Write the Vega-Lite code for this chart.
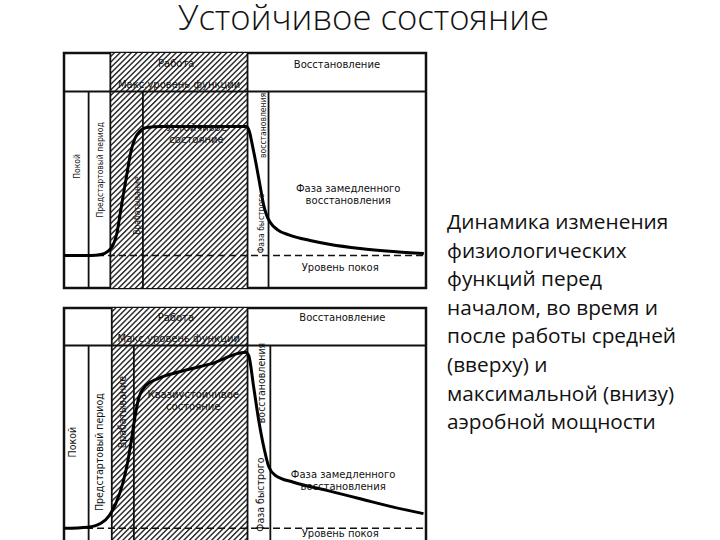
{
  "$schema": "https://vega.github.io/schema/vega-lite/v6.json",
  "background": "white",
  "autosize": {"type": "pad"},
  "padding": {"left": 56, "top": 2, "right": 0, "bottom": 0},
  "title": {"text": "Устойчивое состояние", "fontSize": 34.7, "font": "Open Sans", "fontWeight": 300, "color": "#111", "anchor": "start", "dx": 114, "offset": 13, "frame": "group"},
  "spacing": 15,
  "config": {"view": {"stroke": "#111", "strokeWidth": 2.5}},
  "hconcat": [
    {
      "data": {"values": [
        {"kind":"curve","panel":1,"t":0,"level":12.9},{"kind":"curve","panel":1,"t":7.4,"level":12.9},{"kind":"curve","panel":1,"t":10.2,"level":13.3},{"kind":"curve","panel":1,"t":12.1,"level":14.6},{"kind":"curve","panel":1,"t":13.5,"level":17.2},{"kind":"curve","panel":1,"t":14.6,"level":22.3},{"kind":"curve","panel":1,"t":15.4,"level":29.6},{"kind":"curve","panel":1,"t":16.3,"level":38.2},{"kind":"curve","panel":1,"t":17.4,"level":48.1},{"kind":"curve","panel":1,"t":18.5,"level":57.5},{"kind":"curve","panel":1,"t":19.6,"level":63.1},{"kind":"curve","panel":1,"t":20.9,"level":66.1},{"kind":"curve","panel":1,"t":22.9,"level":67.8},{"kind":"curve","panel":1,"t":26.7,"level":68.2},{"kind":"curve","panel":1,"t":50.4,"level":68.2},{"kind":"curve","panel":1,"t":51.2,"level":66.1},{"kind":"curve","panel":1,"t":52.1,"level":59.7},{"kind":"curve","panel":1,"t":53.2,"level":51.1},{"kind":"curve","panel":1,"t":54.3,"level":41.6},{"kind":"curve","panel":1,"t":55.1,"level":34.8},{"kind":"curve","panel":1,"t":55.9,"level":30.5},{"kind":"curve","panel":1,"t":57.0,"level":27.0},{"kind":"curve","panel":1,"t":58.9,"level":24.0},{"kind":"curve","panel":1,"t":62.5,"level":21.5},{"kind":"curve","panel":1,"t":68.0,"level":19.3},{"kind":"curve","panel":1,"t":73.6,"level":17.6},{"kind":"curve","panel":1,"t":81.8,"level":15.9},{"kind":"curve","panel":1,"t":90.9,"level":14.6},{"kind":"curve","panel":1,"t":99.4,"level":13.7},
        {"kind":"curve","panel":2,"t":0,"level":5.2},{"kind":"curve","panel":2,"t":6.5,"level":5.7},{"kind":"curve","panel":2,"t":10.2,"level":7.4},{"kind":"curve","panel":2,"t":12.5,"level":10.7},{"kind":"curve","panel":2,"t":14.3,"level":15.8},{"kind":"curve","panel":2,"t":16.2,"level":24.3},{"kind":"curve","panel":2,"t":17.5,"level":32.9},{"kind":"curve","panel":2,"t":18.6,"level":42.9},{"kind":"curve","panel":2,"t":19.6,"level":52.9},{"kind":"curve","panel":2,"t":20.7,"level":61.5},{"kind":"curve","panel":2,"t":22.6,"level":66.5},{"kind":"curve","panel":2,"t":25.8,"level":69.4},{"kind":"curve","panel":2,"t":31.3,"level":72.2},{"kind":"curve","panel":2,"t":40.5,"level":75.8},{"kind":"curve","panel":2,"t":50.1,"level":80.8},{"kind":"curve","panel":2,"t":51.0,"level":79.4},{"kind":"curve","panel":2,"t":52.4,"level":65.8},{"kind":"curve","panel":2,"t":53.8,"level":51.5},{"kind":"curve","panel":2,"t":55.2,"level":40.0},{"kind":"curve","panel":2,"t":56.6,"level":31.5},{"kind":"curve","panel":2,"t":58.4,"level":27.9},{"kind":"curve","panel":2,"t":63.4,"level":25.0},{"kind":"curve","panel":2,"t":72.6,"level":21.5},{"kind":"curve","panel":2,"t":81.8,"level":17.9},{"kind":"curve","panel":2,"t":91.0,"level":14.3},{"kind":"curve","panel":2,"t":99.3,"level":11.5},
        {"kind":"hatch","panel":1,"t":12.8,"t2":50.7,"level":-1.1,"level2":99.8},
        {"kind":"hatch","panel":2,"t":13.2,"t2":50.7,"level":-1.1,"level2":99.8},
        {"kind":"vline","panel":1,"t":6.8,"level":-1.1,"level2":83.3},{"kind":"vline","panel":1,"t":12.8,"level":-1.1,"level2":99.8},{"kind":"vline","panel":1,"t":21.8,"level":-1.1,"level2":83.3},{"kind":"vline","panel":1,"t":50.7,"level":-1.1,"level2":99.8},{"kind":"vline","panel":1,"t":56.5,"level":-1.1,"level2":83.3},
        {"kind":"vline","panel":2,"t":6.8,"level":-1.1,"level2":83.7},{"kind":"vline","panel":2,"t":13.2,"level":-1.1,"level2":99.8},{"kind":"vline","panel":2,"t":19.3,"level":-1.1,"level2":83.7},{"kind":"vline","panel":2,"t":50.7,"level":-1.1,"level2":99.8},{"kind":"vline","panel":2,"t":57.0,"level":-1.1,"level2":83.7},
        {"kind":"hline","panel":1,"t":0,"t2":100,"level":83.3},{"kind":"hline","panel":2,"t":0,"t2":100,"level":83.7},
        {"kind":"rest","panel":1,"t":0,"t2":100,"level":12.9},{"kind":"rest","panel":2,"t":0,"t2":100,"level":5.2},
        {"kind":"label","panel":1,"t":31,"level":95.2,"label":"Работа"},
        {"kind":"label","panel":1,"t":75.4,"level":94.7,"label":"Восстановление"},
        {"kind":"label","panel":1,"t":31.8,"level":85.9,"label":"Макс.уровень функции"},
        {"kind":"label","panel":1,"t":36.6,"level":67.8,"label":"Устойчивое\nсостояние"},
        {"kind":"label","panel":1,"t":78.5,"level":41.4,"label":"Фаза замедленного\nвосстановления"},
        {"kind":"label","panel":1,"t":76.3,"level":7.4,"label":"Уровень покоя"},
        {"kind":"label","panel":2,"t":30.9,"level":95.3,"label":"Работа"},
        {"kind":"label","panel":2,"t":76.9,"level":95.3,"label":"Восстановление"},
        {"kind":"label","panel":2,"t":31.7,"level":86.5,"label":"Макс.уровень функции"},
        {"kind":"label","panel":2,"t":35.7,"level":62.5,"label":"Квазиустойчивое\nсостояние"},
        {"kind":"label","panel":2,"t":77.1,"level":28.3,"label":"Фаза замедленного\nвосстановления"},
        {"kind":"label","panel":2,"t":76.3,"level":2.9,"label":"Уровень покоя"},
        {"kind":"vlabel","panel":1,"t":3.6,"level":51.1,"label":"Покой"},
        {"kind":"vlabel","panel":1,"t":10.0,"level":49.6,"label":"Предстартовый период"},
        {"kind":"vlabel","panel":1,"t":20.1,"level":34.3,"label":"Врабатывание"},
        {"kind":"vlabel","panel":1,"t":55.0,"level":68.7,"label":"восстановления"},
        {"kind":"vlabel","panel":1,"t":54.3,"level":26.7,"label":"Фаза быстрого"},
        {"kind":"vlabel","panel":2,"t":2.4,"level":42.2,"label":"Покой"},
        {"kind":"vlabel","panel":2,"t":10.0,"level":37.9,"label":"Предстартовый период"},
        {"kind":"vlabel","panel":2,"t":16.2,"level":55.1,"label":"Врабатывание"},
        {"kind":"vlabel","panel":2,"t":54.7,"level":67.6,"label":"восстановления"},
        {"kind":"vlabel","panel":2,"t":54.3,"level":19.7,"label":"Фаза быстрого"}
      ]},
      "facet": {"row": {"field": "panel", "type": "ordinal", "header": null}},
      "spacing": 20,
      "bounds": "flush",
      "spec": {
        "width": 362,
        "height": 235,
        "encoding": {
          "x": {"field": "t", "type": "quantitative", "scale": {"domain": [0, 100], "nice": false}, "axis": null},
          "y": {"field": "level", "type": "quantitative", "scale": {"domain": [-1.1, 99.8], "nice": false, "zero": false}, "axis": null}
        },
        "layer": [
          {
            "transform": [{"filter": "datum.kind === 'hatch'"}],
            "mark": {"type": "rect", "fill": {"gradient": "linear", "x1": 0, "y1": 0, "x2": 0.685, "y2": 1.1825, "stops": [
              {"offset":0,"color":"#fff"},{"offset":0.006,"color":"#fff"},{"offset":0.009,"color":"#333"},{"offset":0.0115,"color":"#333"},
              {"offset":0.015,"color":"#fff"},{"offset":0.021,"color":"#fff"},{"offset":0.024,"color":"#333"},{"offset":0.0265,"color":"#333"},
              {"offset":0.03,"color":"#fff"},{"offset":0.036,"color":"#fff"},{"offset":0.039,"color":"#333"},{"offset":0.0415,"color":"#333"},
              {"offset":0.045,"color":"#fff"},{"offset":0.051,"color":"#fff"},{"offset":0.054,"color":"#333"},{"offset":0.0565,"color":"#333"},
              {"offset":0.06,"color":"#fff"},{"offset":0.066,"color":"#fff"},{"offset":0.069,"color":"#333"},{"offset":0.0715,"color":"#333"},
              {"offset":0.075,"color":"#fff"},{"offset":0.081,"color":"#fff"},{"offset":0.084,"color":"#333"},{"offset":0.0865,"color":"#333"},
              {"offset":0.09,"color":"#fff"},{"offset":0.096,"color":"#fff"},{"offset":0.099,"color":"#333"},{"offset":0.1015,"color":"#333"},
              {"offset":0.105,"color":"#fff"},{"offset":0.111,"color":"#fff"},{"offset":0.114,"color":"#333"},{"offset":0.1165,"color":"#333"},
              {"offset":0.12,"color":"#fff"},{"offset":0.126,"color":"#fff"},{"offset":0.129,"color":"#333"},{"offset":0.1315,"color":"#333"},
              {"offset":0.135,"color":"#fff"},{"offset":0.141,"color":"#fff"},{"offset":0.144,"color":"#333"},{"offset":0.1465,"color":"#333"},
              {"offset":0.15,"color":"#fff"},{"offset":0.156,"color":"#fff"},{"offset":0.159,"color":"#333"},{"offset":0.1615,"color":"#333"},
              {"offset":0.165,"color":"#fff"},{"offset":0.171,"color":"#fff"},{"offset":0.174,"color":"#333"},{"offset":0.1765,"color":"#333"},
              {"offset":0.18,"color":"#fff"},{"offset":0.186,"color":"#fff"},{"offset":0.189,"color":"#333"},{"offset":0.1915,"color":"#333"},
              {"offset":0.195,"color":"#fff"},{"offset":0.201,"color":"#fff"},{"offset":0.204,"color":"#333"},{"offset":0.2065,"color":"#333"},
              {"offset":0.21,"color":"#fff"},{"offset":0.216,"color":"#fff"},{"offset":0.219,"color":"#333"},{"offset":0.2215,"color":"#333"},
              {"offset":0.225,"color":"#fff"},{"offset":0.231,"color":"#fff"},{"offset":0.234,"color":"#333"},{"offset":0.2365,"color":"#333"},
              {"offset":0.24,"color":"#fff"},{"offset":0.246,"color":"#fff"},{"offset":0.249,"color":"#333"},{"offset":0.2515,"color":"#333"},
              {"offset":0.255,"color":"#fff"},{"offset":0.261,"color":"#fff"},{"offset":0.264,"color":"#333"},{"offset":0.2665,"color":"#333"},
              {"offset":0.27,"color":"#fff"},{"offset":0.276,"color":"#fff"},{"offset":0.279,"color":"#333"},{"offset":0.2815,"color":"#333"},
              {"offset":0.285,"color":"#fff"},{"offset":0.291,"color":"#fff"},{"offset":0.294,"color":"#333"},{"offset":0.2965,"color":"#333"},
              {"offset":0.3,"color":"#fff"},{"offset":0.306,"color":"#fff"},{"offset":0.309,"color":"#333"},{"offset":0.3115,"color":"#333"},
              {"offset":0.315,"color":"#fff"},{"offset":0.321,"color":"#fff"},{"offset":0.324,"color":"#333"},{"offset":0.3265,"color":"#333"},
              {"offset":0.33,"color":"#fff"},{"offset":0.336,"color":"#fff"},{"offset":0.339,"color":"#333"},{"offset":0.3415,"color":"#333"},
              {"offset":0.345,"color":"#fff"},{"offset":0.351,"color":"#fff"},{"offset":0.354,"color":"#333"},{"offset":0.3565,"color":"#333"},
              {"offset":0.36,"color":"#fff"},{"offset":0.366,"color":"#fff"},{"offset":0.369,"color":"#333"},{"offset":0.3715,"color":"#333"},
              {"offset":0.375,"color":"#fff"},{"offset":0.381,"color":"#fff"},{"offset":0.384,"color":"#333"},{"offset":0.3865,"color":"#333"},
              {"offset":0.39,"color":"#fff"},{"offset":0.396,"color":"#fff"},{"offset":0.399,"color":"#333"},{"offset":0.4015,"color":"#333"},
              {"offset":0.405,"color":"#fff"},{"offset":0.411,"color":"#fff"},{"offset":0.414,"color":"#333"},{"offset":0.4165,"color":"#333"},
              {"offset":0.42,"color":"#fff"},{"offset":0.426,"color":"#fff"},{"offset":0.429,"color":"#333"},{"offset":0.4315,"color":"#333"},
              {"offset":0.435,"color":"#fff"},{"offset":0.441,"color":"#fff"},{"offset":0.444,"color":"#333"},{"offset":0.4465,"color":"#333"},
              {"offset":0.45,"color":"#fff"},{"offset":0.456,"color":"#fff"},{"offset":0.459,"color":"#333"},{"offset":0.4615,"color":"#333"},
              {"offset":0.465,"color":"#fff"},{"offset":0.471,"color":"#fff"},{"offset":0.474,"color":"#333"},{"offset":0.4765,"color":"#333"},
              {"offset":0.48,"color":"#fff"},{"offset":0.486,"color":"#fff"},{"offset":0.489,"color":"#333"},{"offset":0.4915,"color":"#333"},
              {"offset":0.495,"color":"#fff"},{"offset":0.501,"color":"#fff"},{"offset":0.504,"color":"#333"},{"offset":0.5065,"color":"#333"},
              {"offset":0.51,"color":"#fff"},{"offset":0.516,"color":"#fff"},{"offset":0.519,"color":"#333"},{"offset":0.5215,"color":"#333"},
              {"offset":0.525,"color":"#fff"},{"offset":0.531,"color":"#fff"},{"offset":0.534,"color":"#333"},{"offset":0.5365,"color":"#333"},
              {"offset":0.54,"color":"#fff"},{"offset":0.546,"color":"#fff"},{"offset":0.549,"color":"#333"},{"offset":0.5515,"color":"#333"},
              {"offset":0.555,"color":"#fff"},{"offset":0.561,"color":"#fff"},{"offset":0.564,"color":"#333"},{"offset":0.5665,"color":"#333"},
              {"offset":0.57,"color":"#fff"},{"offset":0.576,"color":"#fff"},{"offset":0.579,"color":"#333"},{"offset":0.5815,"color":"#333"},
              {"offset":0.585,"color":"#fff"},{"offset":0.591,"color":"#fff"},{"offset":0.594,"color":"#333"},{"offset":0.5965,"color":"#333"},
              {"offset":0.6,"color":"#fff"},{"offset":0.606,"color":"#fff"},{"offset":0.609,"color":"#333"},{"offset":0.6115,"color":"#333"},
              {"offset":0.615,"color":"#fff"},{"offset":0.621,"color":"#fff"},{"offset":0.624,"color":"#333"},{"offset":0.6265,"color":"#333"},
              {"offset":0.63,"color":"#fff"},{"offset":0.636,"color":"#fff"},{"offset":0.639,"color":"#333"},{"offset":0.6415,"color":"#333"},
              {"offset":0.645,"color":"#fff"},{"offset":0.651,"color":"#fff"},{"offset":0.654,"color":"#333"},{"offset":0.6565,"color":"#333"},
              {"offset":0.66,"color":"#fff"},{"offset":0.666,"color":"#fff"},{"offset":0.669,"color":"#333"},{"offset":0.6715,"color":"#333"},
              {"offset":0.675,"color":"#fff"},{"offset":0.681,"color":"#fff"},{"offset":0.684,"color":"#333"},{"offset":0.6865,"color":"#333"},
              {"offset":0.69,"color":"#fff"},{"offset":0.696,"color":"#fff"},{"offset":0.699,"color":"#333"},{"offset":0.7015,"color":"#333"},
              {"offset":0.705,"color":"#fff"},{"offset":0.711,"color":"#fff"},{"offset":0.714,"color":"#333"},{"offset":0.7165,"color":"#333"},
              {"offset":0.72,"color":"#fff"},{"offset":0.726,"color":"#fff"},{"offset":0.729,"color":"#333"},{"offset":0.7315,"color":"#333"},
              {"offset":0.735,"color":"#fff"},{"offset":0.741,"color":"#fff"},{"offset":0.744,"color":"#333"},{"offset":0.7465,"color":"#333"},
              {"offset":0.75,"color":"#fff"},{"offset":0.756,"color":"#fff"},{"offset":0.759,"color":"#333"},{"offset":0.7615,"color":"#333"},
              {"offset":0.765,"color":"#fff"},{"offset":0.771,"color":"#fff"},{"offset":0.774,"color":"#333"},{"offset":0.7765,"color":"#333"},
              {"offset":0.78,"color":"#fff"},{"offset":0.786,"color":"#fff"},{"offset":0.789,"color":"#333"},{"offset":0.7915,"color":"#333"},
              {"offset":0.795,"color":"#fff"},{"offset":0.801,"color":"#fff"},{"offset":0.804,"color":"#333"},{"offset":0.8065,"color":"#333"},
              {"offset":0.81,"color":"#fff"},{"offset":0.816,"color":"#fff"},{"offset":0.819,"color":"#333"},{"offset":0.8215,"color":"#333"},
              {"offset":0.825,"color":"#fff"},{"offset":0.831,"color":"#fff"},{"offset":0.834,"color":"#333"},{"offset":0.8365,"color":"#333"},
              {"offset":0.84,"color":"#fff"},{"offset":0.846,"color":"#fff"},{"offset":0.849,"color":"#333"},{"offset":0.8515,"color":"#333"},
              {"offset":0.855,"color":"#fff"},{"offset":0.861,"color":"#fff"},{"offset":0.864,"color":"#333"},{"offset":0.8665,"color":"#333"},
              {"offset":0.87,"color":"#fff"},{"offset":0.876,"color":"#fff"},{"offset":0.879,"color":"#333"},{"offset":0.8815,"color":"#333"},
              {"offset":0.885,"color":"#fff"},{"offset":0.891,"color":"#fff"},{"offset":0.894,"color":"#333"},{"offset":0.8965,"color":"#333"},
              {"offset":0.9,"color":"#fff"},{"offset":0.906,"color":"#fff"},{"offset":0.909,"color":"#333"},{"offset":0.9115,"color":"#333"},
              {"offset":0.915,"color":"#fff"},{"offset":0.921,"color":"#fff"},{"offset":0.924,"color":"#333"},{"offset":0.9265,"color":"#333"},
              {"offset":0.93,"color":"#fff"},{"offset":0.936,"color":"#fff"},{"offset":0.939,"color":"#333"},{"offset":0.9415,"color":"#333"},
              {"offset":0.945,"color":"#fff"},{"offset":0.951,"color":"#fff"},{"offset":0.954,"color":"#333"},{"offset":0.9565,"color":"#333"},
              {"offset":0.96,"color":"#fff"},{"offset":0.966,"color":"#fff"},{"offset":0.969,"color":"#333"},{"offset":0.9715,"color":"#333"},
              {"offset":0.975,"color":"#fff"},{"offset":0.981,"color":"#fff"},{"offset":0.984,"color":"#333"},{"offset":0.9865,"color":"#333"},
              {"offset":0.99,"color":"#fff"},{"offset":1,"color":"#fff"}
            ]}},
            "encoding": {"x2": {"field": "t2"}, "y2": {"field": "level2"}}
          },
          {
            "transform": [{"filter": "datum.kind === 'rest'"}],
            "mark": {"type": "rule", "color": "#111", "strokeWidth": 1.5, "strokeDash": [7, 4]},
            "encoding": {"x2": {"field": "t2"}}
          },
          {
            "transform": [{"filter": "datum.kind === 'hline'"}],
            "mark": {"type": "rule", "color": "#111", "strokeWidth": 2},
            "encoding": {"x2": {"field": "t2"}}
          },
          {
            "transform": [{"filter": "datum.kind === 'vline'"}],
            "mark": {"type": "rule", "color": "#111", "strokeWidth": 1.8},
            "encoding": {"y2": {"field": "level2"}}
          },
          {
            "transform": [{"filter": "datum.kind === 'curve'"}],
            "mark": {"type": "line", "color": "#000", "strokeWidth": 3, "interpolate": "monotone"},
            "encoding": {}
          },
          {
            "transform": [{"filter": "datum.kind === 'label'"}],
            "mark": {"type": "text", "font": "DejaVu Sans", "fontSize": 10, "color": "#111", "align": "center", "baseline": "middle", "lineBreak": "\n", "lineHeight": 12},
            "encoding": {"text": {"field": "label"}}
          },
          {
            "transform": [{"filter": "datum.kind === 'vlabel' && datum.panel === 1"}],
            "mark": {"type": "text", "font": "DejaVu Sans Condensed", "fontSize": 8.5, "color": "#111", "align": "center", "baseline": "middle", "angle": 270},
            "encoding": {"text": {"field": "label"}}
          },
          {
            "transform": [{"filter": "datum.kind === 'vlabel' && datum.panel === 2"}],
            "mark": {"type": "text", "font": "DejaVu Sans Condensed", "fontSize": 10.5, "color": "#111", "align": "center", "baseline": "middle", "angle": 270},
            "encoding": {"text": {"field": "label"}}
          }
        ]
      }
    },
    {
      "width": 272,
      "height": 490,
      "view": {"stroke": null},
      "data": {"values": [
        {"line": 1, "col": 0, "text": "Динамика изменения"},
        {"line": 2, "col": 0, "text": "физиологических"},
        {"line": 3, "col": 0, "text": "функций перед"},
        {"line": 4, "col": 0, "text": "началом, во время и"},
        {"line": 5, "col": 0, "text": "после работы средней"},
        {"line": 6, "col": 0, "text": "(вверху) и"},
        {"line": 7, "col": 0, "text": "максимальной (внизу)"},
        {"line": 8, "col": 0, "text": "аэробной мощности"}
      ]},
      "mark": {"type": "text", "align": "left", "baseline": "middle", "font": "Open Sans", "fontSize": 20.8, "color": "#111"},
      "encoding": {
        "x": {"field": "col", "type": "quantitative", "scale": {"domain": [0, 1]}, "axis": null},
        "y": {"field": "line", "type": "quantitative", "scale": {"domain": [-4.94, 12.19], "reverse": true, "nice": false, "zero": false}, "axis": null},
        "text": {"field": "text"}
      }
    }
  ]
}
